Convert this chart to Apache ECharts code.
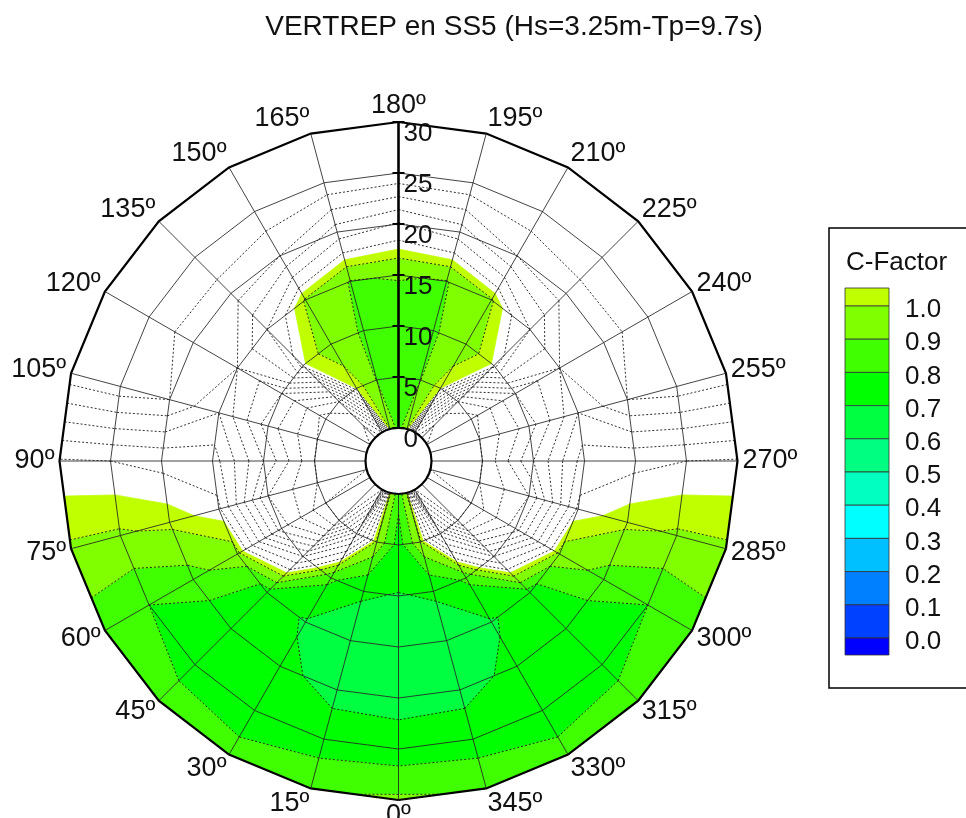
<!DOCTYPE html>
<html>
<head>
<meta charset="utf-8">
<script src="https://cdn.jsdelivr.net/npm/echarts@6/dist/echarts.min.js"></script>
<style>html,body{margin:0;padding:0;background:#fff}#c{width:966px;height:818px}</style>
</head>
<body>
<div id="c"></div>
<script>
// ---------------- DATA ----------------
const angles = [0,15,30,45,60,75,90,105,120,135,150,165,180,195,210,225,240,255,270,285,300,315,330,345];
const radii = [0,5,10,15,20,25,30];
// C-Factor at each angle (row) and radius (column: 0,5,10,15,20,25,30)
const cf000 = [0.83, 0.755, 0.696, 0.65, 0.67, 0.74, 0.92];
const cf015 = [1.02, 0.98, 0.71, 0.66, 0.67, 0.75, 0.88];
const cf030 = [2.0, 1.45, 0.82, 0.69, 0.72, 0.74, 0.84];
const cf045 = [2.2, 2.0, 1.3, 0.75, 0.72, 0.76, 0.85];
const cf060 = [2.1, 2.0, 1.65, 0.97, 0.86, 0.80, 0.84];
const cf075 = [2.0, 1.9, 1.7, 1.08, 1.02, 0.99, 0.99];
const cf090 = [2.0, 1.9, 1.5, 1.15, 1.12, 1.10, 1.09];
const cf105 = [2.0, 1.9, 1.65, 1.3, 1.5, 1.56, 1.56];
const cf120 = [2.0, 1.95, 1.6, 1.4, 1.45, 1.57, 1.57];
const cf135 = [2.1, 1.8, 1.06, 1.2, 1.45, 1.58, 1.58];
const cf150 = [1.9, 1.05, 0.95, 0.99, 1.4, 1.58, 1.58];
const cf165 = [1.0, 0.895, 0.89, 0.895, 1.25, 1.58, 1.58];
const cf180 = [0.85, 0.85, 0.86, 0.905, 1.19, 1.58, 1.58];
const cf195 = [1.0, 0.895, 0.89, 0.895, 1.25, 1.58, 1.58];
const cf210 = [1.9, 1.05, 0.95, 0.99, 1.4, 1.58, 1.58];
const cf225 = [2.1, 1.8, 1.06, 1.2, 1.45, 1.58, 1.58];
const cf240 = [2.0, 1.95, 1.6, 1.4, 1.45, 1.57, 1.57];
const cf255 = [2.0, 1.9, 1.65, 1.3, 1.5, 1.56, 1.56];
const cf270 = [2.0, 1.9, 1.5, 1.15, 1.12, 1.10, 1.09];
const cf285 = [2.0, 1.9, 1.7, 1.08, 1.02, 0.99, 0.99];
const cf300 = [2.1, 2.0, 1.65, 0.97, 0.86, 0.80, 0.84];
const cf315 = [2.2, 2.0, 1.3, 0.75, 0.72, 0.76, 0.85];
const cf330 = [2.0, 1.45, 0.82, 0.69, 0.72, 0.74, 0.84];
const cf345 = [1.02, 0.98, 0.71, 0.66, 0.67, 0.75, 0.88];
const cfactor = [cf000,cf015,cf030,cf045,cf060,cf075,cf090,cf105,cf120,cf135,cf150,cf165,
                 cf180,cf195,cf210,cf225,cf240,cf255,cf270,cf285,cf300,cf315,cf330,cf345];

// contour bands (flood) and legend
const bandEdges = [-Infinity, 0.0, 0.1, 0.2, 0.3, 0.4, 0.5, 0.6, 0.7, 0.8, 0.9, 1.0, 1.05];
const bandColors = ['#0000ff','#0040ff','#0080ff','#00c0ff','#00ffff','#00ffc0','#00ff80','#00ff40','#00ff00','#40ff00','#80ff00','#c0ff00'];
const legendLabels = ['0.0','0.1','0.2','0.3','0.4','0.5','0.6','0.7','0.8','0.9','1.0'];
// contour lines (dotted)
const contourLevels = [0.1,0.2,0.3,0.4,0.5,0.6,0.7,0.8,0.9,1.0,1.1,1.2,1.3,1.4,1.5,1.6,1.7,1.8,1.9,2.0];
// tick labels
const radialTicks = [0,5,10,15,20,25,30];
const radialTickLabels = ['0','5','10','15','20','25','30'];
const angleTickLabels = ['0º','15º','30º','45º','60º','75º','90º','105º','120º','135º','150º','165º',
                         '180º','195º','210º','225º','240º','255º','270º','285º','300º','315º','330º','345º'];
const titleText = 'VERTREP en SS5 (Hs=3.25m-Tp=9.7s)';
const legendTitle = 'C-Factor';

// ---------------- RENDERING ----------------
const FONT = "'Liberation Sans', Arial, Helvetica, sans-serif";
const NA = angles.length;

function corner(api, i, j) {
  const a = j < NA ? angles[j] : 360;
  const p = api.coord([radii[i], a]);
  return {x: p[0], y: p[1], v: cfactor[j % NA][i]};
}
function quadOf(api, i, j) {
  return [corner(api, i, j), corner(api, i + 1, j), corner(api, i + 1, j + 1), corner(api, i, j + 1)];
}
function interp(a, b, L) {
  const t = (L - a.v) / (b.v - a.v);
  return {x: a.x + t * (b.x - a.x), y: a.y + t * (b.y - a.y), v: L};
}
function clip(poly, L, keepAbove) {
  const out = [];
  const n = poly.length;
  for (let k = 0; k < n; k++) {
    const a = poly[k], b = poly[(k + 1) % n];
    const ain = keepAbove ? a.v >= L : a.v <= L;
    const bin = keepAbove ? b.v >= L : b.v <= L;
    if (ain && bin) out.push(b);
    else if (ain && !bin) out.push(interp(a, b, L));
    else if (!ain && bin) { out.push(interp(a, b, L)); out.push(b); }
  }
  return out;
}

const cells = [];
for (let j = 0; j < NA; j++) {
  for (let i = 0; i < radii.length - 1; i++) {
    cells.push([radii[i], angles[j], i, j]);
  }
}

function renderFill(params, api) {
  const i = api.value(2), j = api.value(3);
  const q = quadOf(api, i, j);
  const children = [];
  for (let b = 0; b < bandColors.length; b++) {
    let p = q;
    if (isFinite(bandEdges[b])) p = clip(p, bandEdges[b], true);
    if (p.length < 3) continue;
    p = clip(p, bandEdges[b + 1], false);
    if (p.length < 3) continue;
    children.push({
      type: 'polygon',
      shape: {points: p.map(o => [o.x, o.y])},
      style: {fill: bandColors[b], stroke: bandColors[b], lineWidth: 0.7}
    });
  }
  return {type: 'group', children};
}

const dotStyle = {stroke: '#1a1a1a', lineWidth: 0.9, lineDash: [2, 2], fill: null};
function seg(p, q) {
  return {type: 'line', shape: {x1: p[0], y1: p[1], x2: q[0], y2: q[1]}, style: dotStyle};
}
function renderLines(params, api) {
  const i = api.value(2), j = api.value(3);
  const q = quadOf(api, i, j);
  const children = [];
  contourLevels.forEach(L => {
    const pts = [];
    for (let k = 0; k < 4; k++) {
      const a = q[k], b = q[(k + 1) % 4];
      if ((a.v < L) !== (b.v < L)) {
        const t = (L - a.v) / (b.v - a.v);
        pts.push([a.x + t * (b.x - a.x), a.y + t * (b.y - a.y)]);
      }
    }
    if (pts.length === 2) children.push(seg(pts[0], pts[1]));
    else if (pts.length === 4) {
      const c = (q[0].v + q[1].v + q[2].v + q[3].v) / 4;
      if ((c < L) === (q[0].v < L)) { children.push(seg(pts[0], pts[1])); children.push(seg(pts[2], pts[3])); }
      else { children.push(seg(pts[3], pts[0])); children.push(seg(pts[1], pts[2])); }
    }
  });
  return {type: 'group', children};
}

function renderRing(params, api) {
  const r = api.value(0);
  const pts = angles.map(a => api.coord([r, a]));
  pts.push(pts[0]);
  const outer = r === radii[radii.length - 1];
  return {
    type: 'polyline',
    shape: {points: pts},
    style: {stroke: outer ? '#000' : '#222', lineWidth: outer ? 2.2 : 0.85, fill: null}
  };
}
function renderSpoke(params, api) {
  const a = api.value(1);
  const p0 = api.coord([radii[0], a]);
  const p1 = api.coord([radii[radii.length - 1], a]);
  return {type: 'line', shape: {x1: p0[0], y1: p0[1], x2: p1[0], y2: p1[1]},
          style: {stroke: '#222', lineWidth: 0.85}};
}
function polarCenter(api) {
  const c0 = api.coord([0, 0]), c1 = api.coord([0, 180]);
  return {x: (c0[0] + c1[0]) / 2, y: (c0[1] + c1[1]) / 2,
          r: Math.hypot(c0[0] - c1[0], c0[1] - c1[1]) / 2};
}
function renderAxis(params, api) {
  const c = polarCenter(api);
  const axisAngle = 180;
  const pa = api.coord([radialTicks[0], axisAngle]);
  const pb = api.coord([radialTicks[radialTicks.length - 1], axisAngle]);
  const children = [
    {type: 'circle', shape: {cx: c.x, cy: c.y, r: c.r}, style: {fill: '#fff', stroke: '#000', lineWidth: 2.2}},
    {type: 'line', shape: {x1: pa[0], y1: pa[1], x2: pb[0], y2: pb[1]}, style: {stroke: '#000', lineWidth: 2.6}}
  ];
  radialTicks.forEach((t, k) => {
    const p = api.coord([t, axisAngle]);
    children.push({type: 'line', shape: {x1: p[0] - 6, y1: p[1], x2: p[0] + 6, y2: p[1]}, style: {stroke: '#000', lineWidth: 2}});
    children.push({type: 'text', style: {text: radialTickLabels[k], x: p[0] + 5, y: p[1] + 12,
      textAlign: 'left', textVerticalAlign: 'middle', font: '26px ' + FONT, fill: '#111'}});
  });
  return {type: 'group', children};
}
function renderAngleLabel(params, api) {
  const idx = params.dataIndex;
  const c = polarCenter(api);
  const v = api.coord([api.value(0), api.value(1)]);
  const dx = v[0] - c.x, dy = v[1] - c.y;
  const d = Math.hypot(dx, dy);
  const ux = dx / d, uy = dy / d;
  const m = 5, hh = 11;
  const align = ux > 0.1 ? 'left' : (ux < -0.1 ? 'right' : 'center');
  return {type: 'text', style: {text: angleTickLabels[idx], x: v[0] + ux * m, y: v[1] + uy * (m + hh),
    textAlign: align, textVerticalAlign: 'middle', font: '27px ' + FONT, fill: '#111'}};
}

// legend graphics built from band colours/labels
const legendGraphics = [];
(function () {
  const bx = 829, by = 228, bw = 170, bh = 460;
  legendGraphics.push({type: 'rect', shape: {x: bx, y: by, width: bw, height: bh},
    style: {fill: '#fff', stroke: '#000', lineWidth: 1.5}, z: 10});
  legendGraphics.push({type: 'text', style: {text: legendTitle, x: 846, y: 263, textVerticalAlign: 'middle',
    font: '26px ' + FONT, fill: '#111'}, z: 11});
  const sx = 845, sw = 44, top = 288, first = 306, step = 33.2, bottom = 655;
  const nb = bandColors.length;
  const edges = [top];
  for (let k = 0; k < legendLabels.length; k++) edges.push(first + step * k);
  edges.push(bottom);
  for (let k = 0; k < nb; k++) {
    const color = bandColors[nb - 1 - k];
    legendGraphics.push({type: 'rect', shape: {x: sx, y: edges[k], width: sw, height: edges[k + 1] - edges[k]},
      style: {fill: color, stroke: '#333', lineWidth: 0.8}, z: 11});
  }
  for (let k = 0; k < legendLabels.length; k++) {
    legendGraphics.push({type: 'text', style: {text: legendLabels[legendLabels.length - 1 - k], x: 905, y: edges[k + 1] + 4,
      textVerticalAlign: 'middle', font: '26px ' + FONT, fill: '#111'}, z: 11});
  }
})();

const chart = echarts.init(document.getElementById('c'));
chart.setOption({
  animation: false,
  backgroundColor: '#fff',
  title: {text: titleText, left: 509, top: 8, textAlign: 'center',
    textStyle: {fontSize: 28, fontWeight: 'normal', color: '#111', fontFamily: FONT}},
  polar: {center: [398.5, 461], radius: [33, 339]},
  angleAxis: {type: 'value', min: 0, max: 360, interval: 15, startAngle: 270, clockwise: true,
    axisLine: {show: false}, axisTick: {show: false}, axisLabel: {show: false}, splitLine: {show: false}},
  radiusAxis: {type: 'value', min: 0, max: 30, interval: 5,
    axisLine: {show: false}, axisTick: {show: false}, axisLabel: {show: false}, splitLine: {show: false}},
  graphic: legendGraphics,
  series: [
    {type: 'custom', coordinateSystem: 'polar', data: cells, renderItem: renderFill, z: 2, silent: true},
    {type: 'custom', coordinateSystem: 'polar', data: cells, renderItem: renderLines, z: 3, silent: true},
    {type: 'custom', coordinateSystem: 'polar', data: radii.slice(1).map(r => [r, 0]), renderItem: renderRing, z: 4, silent: true},
    {type: 'custom', coordinateSystem: 'polar', data: angles.map(a => [radii[radii.length - 1], a]), renderItem: renderSpoke, z: 4, silent: true},
    {type: 'custom', coordinateSystem: 'polar', data: [[0, 180]], renderItem: renderAxis, z: 5, silent: true},
    {type: 'custom', coordinateSystem: 'polar', data: angles.map(a => [radii[radii.length - 1], a]), renderItem: renderAngleLabel, z: 6, silent: true}
  ]
});
</script>
</body>
</html>
